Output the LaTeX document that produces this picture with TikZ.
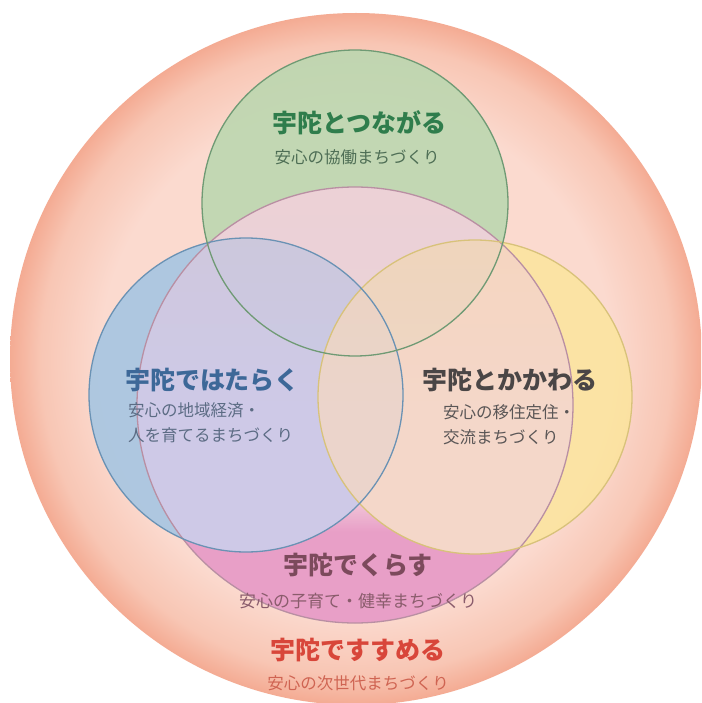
\documentclass[tikz,border=0pt]{standalone}
\usepackage{fontspec}
\newfontfamily\jp{Noto Sans CJK JP}
\definecolor{bgin}{HTML}{FBDACF}
\definecolor{bgmid}{HTML}{F8C6B4}
\definecolor{bgout}{HTML}{F4AB93}
\definecolor{gfill}{HTML}{BCD7B0}
\definecolor{gline}{HTML}{6F9A74}
\definecolor{bfill}{HTML}{A6C6E2}
\definecolor{bline}{HTML}{6A92B4}
\definecolor{yfill}{HTML}{FCE796}
\definecolor{yline}{HTML}{D8C27A}
\definecolor{ptop}{HTML}{F2C8D6}
\definecolor{pmid}{HTML}{EECCEE}
\definecolor{pblend}{HTML}{F4D3DE}
\definecolor{pbot}{HTML}{E48ABE}
\definecolor{pline}{HTML}{B98FA3}
\definecolor{gt}{HTML}{2F7D4C}
\definecolor{gs}{HTML}{4E6E55}
\definecolor{bt}{HTML}{3D6898}
\definecolor{bs}{HTML}{5C6C84}
\definecolor{yt}{HTML}{4A4646}
\definecolor{ys}{HTML}{5A5656}
\definecolor{pt}{HTML}{7C4A5C}
\definecolor{ps}{HTML}{8A5C6C}
\definecolor{rt}{HTML}{D8463A}
\definecolor{rs}{HTML}{CF6452}
% the path's bounding box maps onto the central 50bp square of the shading
\pgfdeclareradialshading{glow}{\pgfpoint{0bp}{0bp}}{color(0bp)=(bgin); color(18.5bp)=(bgin); color(22.8bp)=(bgmid); color(25bp)=(bgout); color(50bp)=(bgout)}
\pgfdeclareverticalshading{pinkbase}{100bp}{color(0bp)=(pmid); color(50bp)=(pmid); color(75bp)=(ptop); color(100bp)=(ptop)}
\pgfdeclareverticalshading{pinkdeep}{100bp}{color(0bp)=(pbot); color(35.5bp)=(pbot); color(40bp)=(pblend); color(100bp)=(pblend)}
\tikzset{
  titletext/.style={font=\jp\bfseries\fontsize{25}{30}\selectfont, inner sep=0pt},
  subtext/.style={font=\jp\fontsize{16.5}{25}\selectfont, inner sep=0pt},
  ring/.style={line width=1.3pt},
}
\begin{document}
\begin{tikzpicture}[x=1pt,y=-1pt]
\useasboundingbox (0,0) rectangle (701,703);
\clip (0,0) rectangle (701,703);
\fill[white] (0,0) rectangle (701,703);
% outer circle
\shade[shading=glow] (356,359) circle[radius=346];
% three circles
\fill[gfill, fill opacity=0.9] (355,203) circle[radius=153];
\fill[bfill, fill opacity=0.9] (246,395) circle[radius=157];
\fill[yfill, fill opacity=0.75] (475,397) circle[radius=157];
% large pink circle on top
\shade[shading=pinkbase, fill opacity=0.5] (355,405) circle[radius=218];
\begin{scope}[even odd rule]
  \clip (-10,-10) rectangle (711,713) (246,395) circle[radius=157];
  \begin{scope}[even odd rule]
    \clip (-10,-10) rectangle (711,713) (475,397) circle[radius=157];
    \shade[shading=pinkdeep, fill opacity=0.7] (355,405) circle[radius=218];
  \end{scope}
\end{scope}
\draw[ring, pline] (355,405) circle[radius=218];
\draw[ring, yline] (475,397) circle[radius=157];
\draw[ring, bline] (246,395) circle[radius=157];
\draw[ring, gline] (355,203) circle[radius=153];
% texts
\node[titletext, text=gt] (gtitle) at (359,123) {宇陀とつながる};
\node[subtext, text=gs] (gsub) at (357,157) {安心の協働まちづくり};
\node[titletext, text=bt, anchor=west] (btitle) at (125,380) {宇陀ではたらく};
\node[subtext, text=bs, anchor=north west, align=left] (bsub) at (128,402) {安心の地域経済・\\人を育てるまちづくり};
\node[titletext, text=yt, anchor=west] (ytitle) at (422,380) {宇陀とかかわる};
\node[subtext, text=ys, anchor=north west, align=left] (ysub) at (443,404) {安心の移住定住・\\交流まちづくり};
\node[titletext, text=pt] (ptitle) at (358,565) {宇陀でくらす};
\node[subtext, text=ps, font=\jp\fontsize{17}{25}\selectfont] (psub) at (358,601) {安心の子育て・健幸まちづくり};
\node[titletext, text=rt] (rtitle) at (358,650) {宇陀ですすめる};
\node[subtext, text=rs] (rsub) at (358,683) {安心の次世代まちづくり};
\end{tikzpicture}
\end{document}
